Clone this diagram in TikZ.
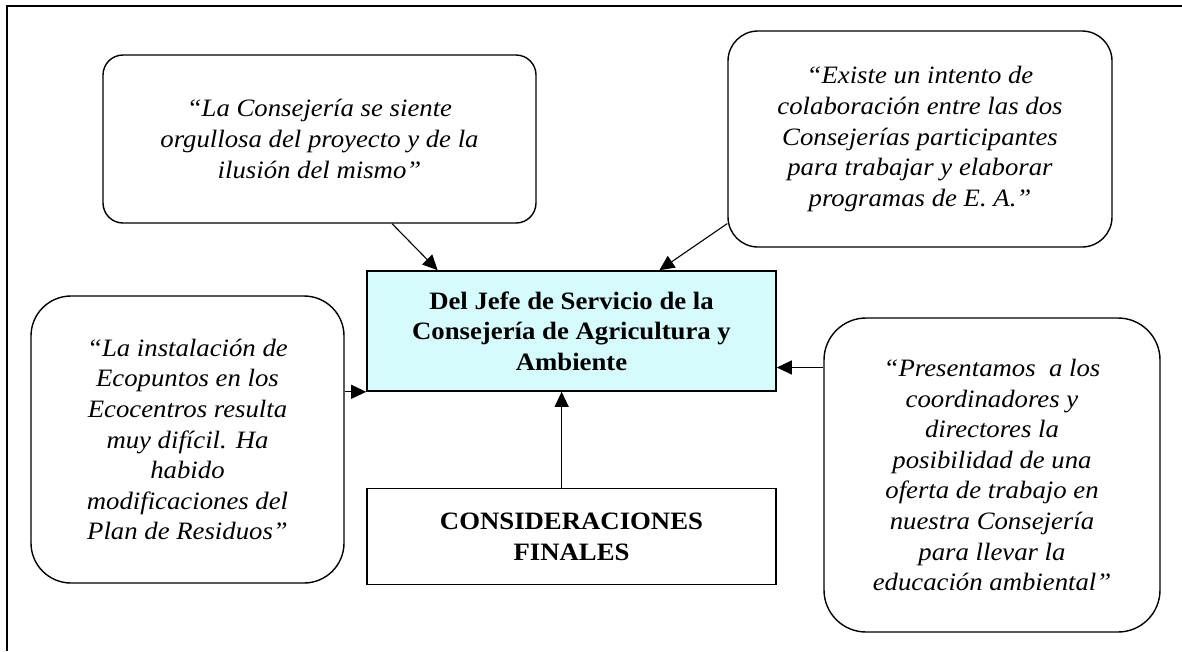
\documentclass[tikz,border=0pt]{standalone}
\usepackage{fontspec}
\setmainfont{Liberation Serif}[FakeStretch=1.07]
\usepackage{xcolor}
\usetikzlibrary{positioning,arrows.meta,calc}
\definecolor{paleCyan}{HTML}{D6FBFD}

\begin{document}
\begin{tikzpicture}[x=1pt, y=-1pt,
  every node/.style={font=\fontsize{25}{30.6}\selectfont, inner sep=0pt},
  quote/.style={rectangle, draw=black, line width=1.4pt, align=center,
                font=\fontsize{25}{30.6}\selectfont\itshape},
  chiefbox/.style={rectangle, draw=black, line width=1.6pt, fill=paleCyan, align=center,
                   font=\fontsize{25}{30.6}\selectfont\bfseries, minimum width=409pt, minimum height=120pt},
  finalbox/.style={rectangle, draw=black, line width=1.6pt, align=center,
                   font=\fontsize{25}{31.5}\selectfont\bfseries, minimum width=409pt, minimum height=96pt},
  flowin/.style={-{Triangle[length=15pt,width=14pt]}, line width=1.1pt}
]
  \useasboundingbox (0,0) rectangle (1182,651);
  \draw[line width=2pt] (1182,6) -- (7,6) -- (7,651);
  \node[chiefbox] (chief) at (571.5,331) {Del Jefe de Servicio de la\\ Consejería de Agricultura y\\ Ambiente};
  \node[finalbox, below=96pt of chief] (final) {CONSIDERACIONES\\ FINALES};
  \node[quote, rounded corners=20pt, minimum width=433pt, minimum height=168pt] (qa) at (319.5,139)
       {“La Consejería se siente\\ orgullosa del proyecto y de la\\ ilusión del mismo”};
  \node[quote, rounded corners=30pt, minimum width=384pt, minimum height=216pt] (qb) at (920,139)
       {“Existe un intento de\\ colaboración entre las dos\\ Consejerías participantes\\ para trabajar y elaborar\\ programas de E. A.”};
  \node[quote, rounded corners=40pt, minimum width=313pt, minimum height=287pt] (qc) at (187.5,439.5)
       {“La instalación de\\ Ecopuntos en los\\ Ecocentros resulta\\ muy difícil. Ha\\ habido\\ modificaciones del\\ Plan de Residuos”};
  \node[quote, rounded corners=42pt, minimum width=336pt, minimum height=314pt] (qd) at (992,475)
       {“Presentamos\ \ a los\\ coordinadores y\\ directores la\\ posibilidad de una\\ oferta de trabajo en\\ nuestra Consejería\\ para llevar la\\ educación ambiental”};
  \draw[flowin] ($(qa.south west)!0.667!(qa.south east)$) -- ($(chief.north west)!0.174!(chief.north east)$);
  \draw[flowin] ($(qb.south west)!0.111!(qb.north west)$) -- ($(chief.north west)!0.714!(chief.north east)$);
  \draw[flowin] (qc.east |- chief.south west) -- (chief.south west);
  \coordinate (dIn) at ($(chief.south east)!0.2!(chief.north east)$);
  \draw[flowin] (qd.west |- dIn) -- (dIn);
  \coordinate (eOut) at ($(final.north west)!0.476!(final.north east)$);
  \draw[flowin] (eOut) -- (eOut |- chief.south);
\end{tikzpicture}
\end{document}
